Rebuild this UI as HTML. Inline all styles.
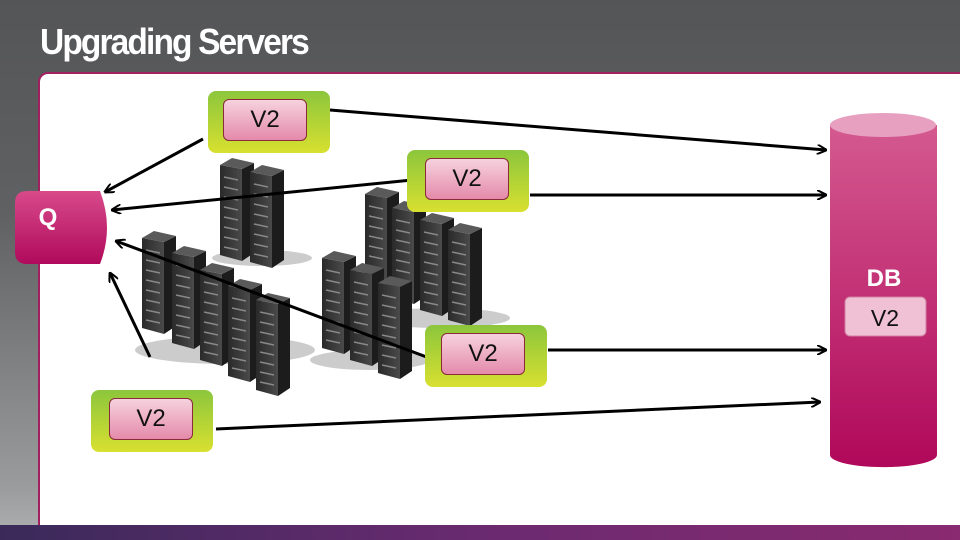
<!DOCTYPE html>
<html><head><meta charset="utf-8"><style>
body{margin:0;width:960px;height:540px;overflow:hidden;font-family:"Liberation Sans",sans-serif;}
.bg{position:absolute;left:0;top:0;width:960px;height:540px;background:linear-gradient(180deg,#545557 0%,#606163 40%,#9a9b9d 90%,#b0b1b3 100%);}
.title{position:absolute;left:40px;top:21px;color:#fff;font-size:36px;font-weight:bold;letter-spacing:-2px;transform:scaleX(0.93);transform-origin:left;}
.panel{position:absolute;left:38px;top:72px;width:930px;height:455px;background:#fff;border:2px solid #a02060;border-radius:10px 0 0 0;}
.bottom{position:absolute;left:0;top:525px;width:960px;height:15px;background:linear-gradient(90deg,#3a2a5a,#6a2a70,#8a2a70);}
.g{position:absolute;width:122px;height:62px;border-radius:8px;background:linear-gradient(180deg,#8cc63c,#d8e030);}
.p{position:absolute;left:15px;top:8px;width:82px;height:40px;border:1px solid #8a2a3a;border-radius:6px;background:linear-gradient(180deg,#f6d2de,#e48aaa);font-size:24px;text-align:center;line-height:40px;color:#111;}
</style></head><body>
<div class="bg"></div>
<div class="title">Upgrading Servers</div>
<div class="panel"></div>
<div class="bottom"></div>
<svg style="position:absolute;left:0;top:0" width="960" height="540">
<defs>
<linearGradient id="rk" x1="0" x2="1"><stop offset="0" stop-color="#2a2a2a"/><stop offset="1" stop-color="#4a4a4a"/></linearGradient>
<linearGradient id="db" x1="0" y1="0" x2="0" y2="1"><stop offset="0" stop-color="#d45a90"/><stop offset="1" stop-color="#b0085a"/></linearGradient>
<linearGradient id="q" x1="0" y1="0" x2="0" y2="1"><stop offset="0" stop-color="#d84a8a"/><stop offset="1" stop-color="#b00a5c"/></linearGradient>
<marker id="a" markerWidth="10" markerHeight="10" refX="9" refY="5" orient="auto" markerUnits="userSpaceOnUse" viewBox="0 0 10 10"><path d="M0,0 L10,5 L0,10" fill="none" stroke="#000" stroke-width="2"/></marker>
<g id="r"><path d="M0,10 L22,14 L22,106 L0,100Z" fill="url(#rk)"/><path d="M22,14 L34,8 L34,98 L22,106Z" fill="#1c1c1c"/><path d="M0,10 L12,3 L34,8 L22,14Z" fill="#5a5a5a"/><g stroke="#888" stroke-width="1.5"><line x1="4" y1="22" x2="18" y2="25"/><line x1="4" y1="32" x2="18" y2="35"/><line x1="4" y1="42" x2="18" y2="45"/><line x1="4" y1="52" x2="18" y2="55"/><line x1="4" y1="62" x2="18" y2="65"/><line x1="4" y1="72" x2="18" y2="75"/><line x1="4" y1="82" x2="18" y2="85"/><line x1="4" y1="92" x2="18" y2="95"/></g></g>
</defs>
<ellipse cx="262" cy="258" rx="50" ry="8" fill="#ccc"/>
<use href="#r" x="220" y="155"/><use href="#r" x="250" y="162"/>
<ellipse cx="440" cy="318" rx="70" ry="10" fill="#ccc"/>
<use href="#r" x="365" y="184"/><use href="#r" x="392" y="198"/><use href="#r" x="420" y="210"/><use href="#r" x="448" y="220"/>
<ellipse cx="225" cy="350" rx="90" ry="14" fill="#ccc"/>
<use href="#r" x="142" y="228"/><use href="#r" x="172" y="243"/><use href="#r" x="200" y="260"/><use href="#r" x="228" y="276"/><use href="#r" x="256" y="290"/>
<ellipse cx="370" cy="360" rx="60" ry="10" fill="#ccc"/>
<use href="#r" x="322" y="248"/><use href="#r" x="350" y="260"/><use href="#r" x="378" y="273"/>
<path d="M830,125 L830,455 A53,12 0 0 0 937,455 L937,125Z" fill="url(#db)"/>
<ellipse cx="883" cy="125" rx="53" ry="12" fill="#e8a0c0"/>
<text x="884" y="286" font-size="24" font-weight="bold" fill="#fff" text-anchor="middle" font-family="Liberation Sans">DB</text>
<rect x="845" y="297" width="81" height="39" rx="5" fill="#f0c0d5" stroke="#d080a0"/>
<text x="885" y="326" font-size="23" fill="#111" text-anchor="middle" font-family="Liberation Sans">V2</text>
<path d="M27,191 L100,191 Q114,228 100,264 L27,264 Q15,264 15,252 L15,203 Q15,191 27,191Z" fill="url(#q)"/>
<text x="48" y="225" font-size="24" font-weight="bold" fill="#fff" text-anchor="middle" font-family="Liberation Sans">Q</text>
<g stroke="#000" stroke-width="3" marker-end="url(#a)">
<line x1="330" y1="110" x2="826" y2="150"/>
<line x1="530" y1="195" x2="826" y2="195"/>
<line x1="203" y1="139" x2="105" y2="192"/>
<line x1="412" y1="180" x2="112" y2="210"/>
<line x1="440" y1="362" x2="116" y2="241"/>
<line x1="150" y1="357" x2="110" y2="273"/>
<line x1="548" y1="350" x2="826" y2="350"/>
<line x1="216" y1="429" x2="820" y2="402"/>
</g>
</svg>
<div class="g" style="left:208px;top:91px"><div class="p">V2</div></div>
<div class="g" style="left:407px;top:150px"><div class="p" style="left:18px">V2</div></div>
<div class="g" style="left:425px;top:325px"><div class="p" style="left:16px">V2</div></div>
<div class="g" style="left:91px;top:390px"><div class="p" style="left:18px">V2</div></div>
</body></html>
